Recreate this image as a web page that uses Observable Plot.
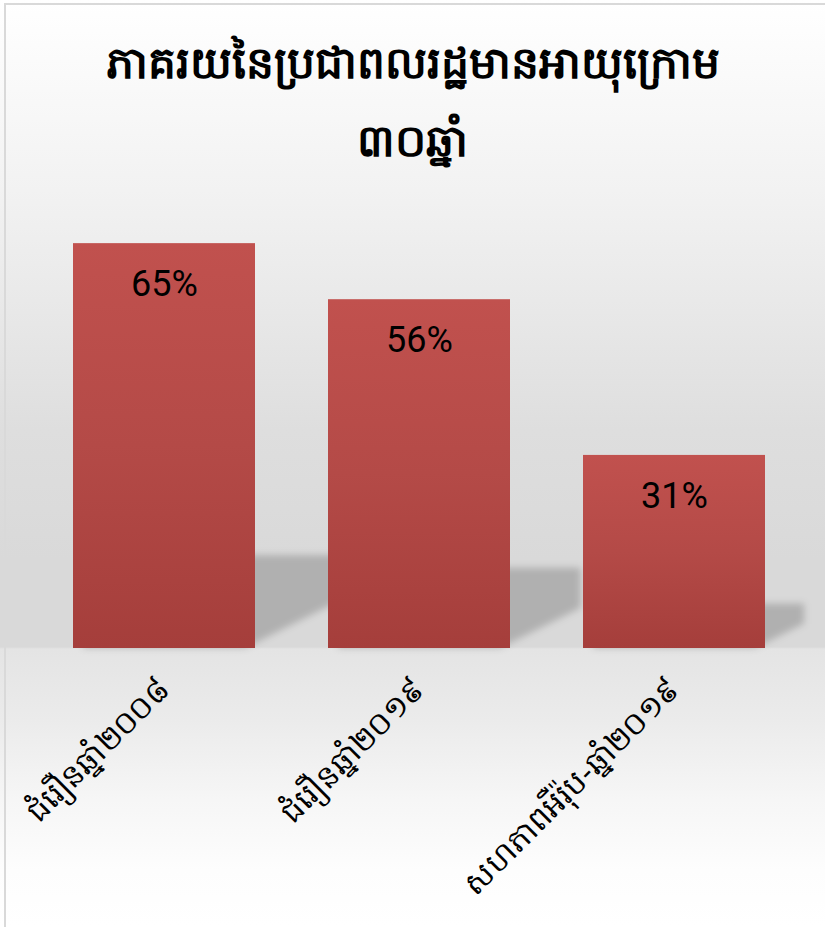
<!DOCTYPE html>
<html>
<head>
<meta charset="utf-8">
<script src="https://cdn.jsdelivr.net/npm/d3@7"></script>
<script src="https://cdn.jsdelivr.net/npm/@observablehq/plot@0.6"></script>
<style>
  html, body { margin: 0; padding: 0; width: 825px; height: 927px; overflow: hidden; background: #fff; }
  #frame {
    position: absolute; left: 0; top: 0; width: 825px; height: 927px;
    background: linear-gradient(to bottom,
      #ffffff 0px, #fbfbfb 60px, #f2f2f2 190px, #e9e9e9 300px, #dedede 430px,
      #d9d9d9 560px, #d9d9d9 647px, #e4e4e4 649px, #ebebeb 720px, #f6f6f6 800px,
      #fdfdfd 870px, #ffffff 927px);
  }
  #border {
    position: absolute; left: 4px; top: 3px; width: 830px; height: 930px;
    border-left: 2px solid #d9d9d9; border-top: 2px solid #d9d9d9; box-sizing: border-box;
  }
  #title {
    position: absolute; left: 0; top: 22px; width: 825px; text-align: center;
    font-family: "Noto Sans", "DejaVu Sans", sans-serif; font-size: 44px; font-weight: bold; line-height: 78px; color: #000;
  }
  #chart { position: absolute; left: 0; top: 185px; }
</style>
</head>
<body>
<div id="frame"></div>
<div id="border"></div>
<div id="title">ភាគរយនៃប្រជាពលរដ្ឋមានអាយុក្រោម<br>៣០ឆ្នាំ</div>
<div id="chart"></div>
<script>
const categories = ["ជំរឿនឆ្នាំ២០០៨", "ជំរឿនឆ្នាំ២០១៩", "សហភាពអឺរ៉ុប-ឆ្នាំ២០១៩"];
const values = [65, 56, 31];
const valueLabels = ["65%", "56%", "31%"];

const data = categories.map((c, i) => ({category: c, value: values[i], label: valueLabels[i]}));

function shadowRender(index, scales, vals) {
  const g = d3.create("svg:g").attr("filter", "url(#shadowBlur)");
  const bw = scales.x.bandwidth();
  for (const i of index) {
    const x0 = vals.x[i], yb = vals.y1[i], yt = vals.y2[i];
    const h = yb - yt, s = 0.23 * h, dR = 0.88 * s, x1 = x0 + bw;
    const pts = [
      [x0 + 10, yb], [x1 - 10, yb],
      [x1 + dR, yb - 0.5 * (dR + 10)],
      [x1 + dR, yb - s], [x0 + 10, yb - s]
    ];
    g.append("polygon").attr("points", pts.map(p => p.join(",")).join(" "))
      .attr("fill", "#000").attr("fill-opacity", 0.19);
  }
  return g.node();
}

const plot = Plot.plot({
  width: 825,
  height: 742,
  marginTop: 27,
  marginBottom: 279,
  marginLeft: 21,
  marginRight: 8,
  style: {background: "transparent", fontFamily: "'Noto Sans', 'DejaVu Sans', sans-serif", overflow: "visible"},
  x: {domain: categories, paddingInner: 0.286, paddingOuter: 0.2, label: null},
  y: {domain: [0, 70], axis: null},
  marks: [
    Plot.barY(data, {x: "category", y: "value", render: shadowRender}),
    Plot.barY(data, {x: "category", y: "value", fill: "url(#barGrad)"}),
    Plot.text(data, {x: "category", y: "value", text: "label", dy: 41, fontSize: 36, fill: "#000",
      fontFamily: "Roboto, 'Noto Sans', sans-serif"}),
    Plot.axisX({tickSize: 0, tickPadding: 36, tickRotate: -45, fontSize: 31, fill: "#000", label: null})
  ]
});

const ns = "http://www.w3.org/2000/svg";
const defs = document.createElementNS(ns, "defs");
defs.innerHTML = `
  <linearGradient id="barGrad" x1="0" y1="0" x2="0" y2="1">
    <stop offset="0" stop-color="#c1514e"/>
    <stop offset="0.5" stop-color="#b44a47"/>
    <stop offset="1" stop-color="#a53e3b"/>
  </linearGradient>
  <filter id="shadowBlur" x="-20%" y="-20%" width="140%" height="140%">
    <feGaussianBlur stdDeviation="3.5"/>
  </filter>`;
plot.insertBefore(defs, plot.firstChild);
document.getElementById("chart").appendChild(plot);
</script>
</body>
</html>
